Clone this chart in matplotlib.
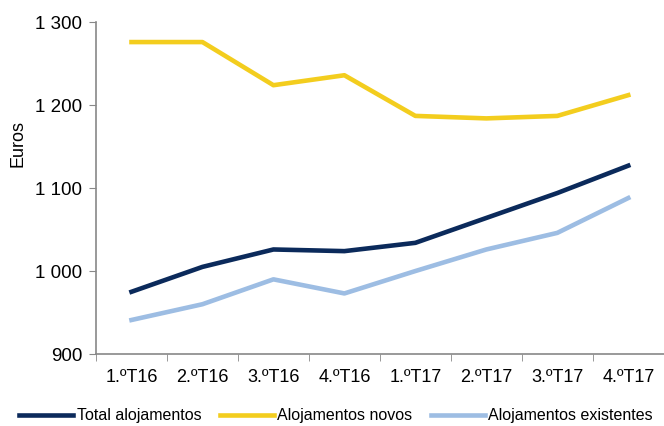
import matplotlib
matplotlib.use('Agg')
import matplotlib.pyplot as plt
from matplotlib.ticker import FuncFormatter, FixedLocator

plt.rcParams['font.family'] = ['Liberation Sans', 'DejaVu Sans']

quarters = ['1.ºT16', '2.ºT16', '3.ºT16', '4.ºT16', '1.ºT17', '2.ºT17', '3.ºT17', '4.ºT17']
total = [975, 1005, 1026, 1024, 1034, 1064, 1094, 1127]
novos = [1276, 1276, 1224, 1236, 1187, 1184, 1187, 1212]
existentes = [941, 960, 990, 973, 1000, 1026, 1046, 1088]

fig = plt.figure(figsize=(6.64, 4.26), dpi=100)
ax = fig.add_axes([0.1446, 0.169, 0.855, 0.779])

x = range(len(quarters))
ax.plot(x, total, color='#0b2a5b', lw=3.3, label='Total alojamentos')
ax.plot(x, novos, color='#f3cd1e', lw=3.3, label='Alojamentos novos')
ax.plot(x, existentes, color='#9dbde3', lw=3.3, label='Alojamentos existentes')

ax.set_xlim(-0.5, len(quarters) - 0.5)
ax.set_ylim(900, 1300)
ax.set_yticks([900, 1000, 1100, 1200, 1300])
ax.yaxis.set_major_formatter(FuncFormatter(lambda v, p: f'{int(v):,}'.replace(',', ' ')))
ax.set_xticks(list(x))
ax.set_xticklabels(quarters)
ax.xaxis.set_minor_locator(FixedLocator([i - 0.5 for i in range(len(quarters) + 1)]))
ax.tick_params(axis='x', which='major', length=0, pad=11, labelsize=13)
ax.tick_params(axis='x', which='minor', length=5, color='#888888', direction='out')
ax.tick_params(axis='y', length=5, color='#888888', labelsize=13.5, pad=5)
ax.set_ylabel('Euros', fontsize=13)
ax.yaxis.set_label_coords(-0.123, 0.633)

for s in ['top', 'right']:
    ax.spines[s].set_visible(False)
for s in ['left', 'bottom']:
    ax.spines[s].set_color('#888888')
    ax.spines[s].set_linewidth(1.2)

fig.legend(loc='lower left', bbox_to_anchor=(0.012, -0.02), ncol=3, frameon=False,
           fontsize=11.5, handlelength=3.4, handletextpad=0.2, columnspacing=1.15,
           borderaxespad=0.3)

fig.savefig('out.png', dpi=100)
